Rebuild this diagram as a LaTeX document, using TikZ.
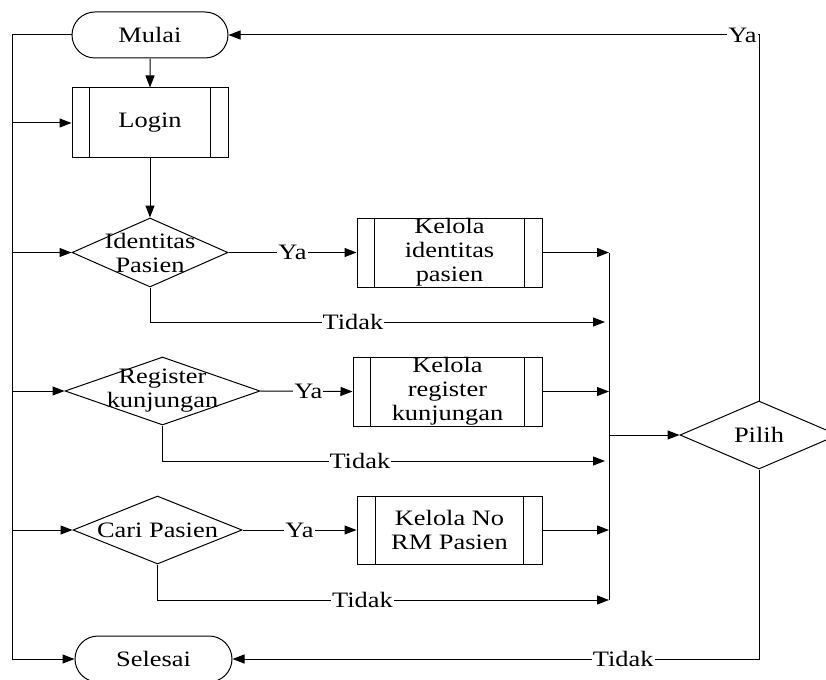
\documentclass[tikz,border=0pt]{standalone}
\usepackage{fontspec}
\setmainfont[FakeStretch=1.2]{Liberation Serif}
\usetikzlibrary{shapes.geometric,shapes.misc,arrows.meta}
\tikzset{
  base/.style={draw=black, line width=1pt, inner sep=0pt, align=center,
    font=\fontsize{22}{24}\selectfont},
  term/.style={base, rounded rectangle, minimum height=46pt},
  proc/.style={base, rectangle, minimum height=69pt},
  dec/.style={base, diamond, minimum height=68pt},
  txt/.style={align=center, inner sep=0pt, font=\fontsize{22}{24}\selectfont},
  lbl/.style={fill=white, inner sep=1pt, font=\fontsize{22}{24}\selectfont},
  conn/.style={line width=1pt},
  arr/.style={conn, -{Triangle[length=12pt,width=9pt]}}
}
\newcommand{\sidebars}[2]{%
  \draw[conn] ([xshift=#2]#1.north west) -- ([xshift=#2]#1.south west);
  \draw[conn] ([xshift=-#2]#1.north east) -- ([xshift=-#2]#1.south east);}
\begin{document}
\begin{tikzpicture}[x=1pt,y=-1pt]
\useasboundingbox (0,0) rectangle (826,679);

% nodes
\node[term, minimum width=156pt] (mulai) at (150,35) {Mulai};
\node[proc, minimum width=156pt, minimum height=70pt] (login) at (150,123) {Login};
\sidebars{login}{18pt}

\node[dec, minimum width=156pt, minimum height=69pt] (id) at (150,252.5) {};
\node[txt] (idt) at (id) {Identitas\\Pasien};
\node[proc, minimum width=185pt] (k1) at (449.5,252.5) {};
\node[txt] (k1t) at (k1) {Kelola\\identitas\\pasien};
\sidebars{k1}{18pt}

\node[dec, minimum width=195pt] (reg) at (162.5,391) {};
\node[txt] (regt) at (reg) {Register\\kunjungan};
\node[proc, minimum width=189pt] (k2) at (447.5,391.5) {};
\node[txt] (k2t) at (k2) {Kelola\\register\\kunjungan};
\sidebars{k2}{18pt}

\node[dec, minimum width=169pt] (cari) at (157.5,530) {};
\node[txt] (carit) at (cari) {Cari Pasien};
\node[proc, minimum width=185pt, minimum height=68pt] (k3) at (449.5,530) {};
\node[txt] (k3t) at (k3) {Kelola No\\RM Pasien};
\sidebars{k3}{19pt}

\node[term, minimum width=157pt] (selesai) at (153.5,659) {Selesai};

\node[dec, minimum width=158pt] (pilih) at (759,435) {};
\node[txt] (pilt) at (pilih) {Pilih};

% coordinates
\coordinate (L0) at (12,35);
\coordinate (Lend) at (12,659);
\coordinate (C1) at (609,252.5);
\coordinate (C2) at (609,391.5);
\coordinate (C3) at (609,530);
\coordinate (Cm) at (609,435);
\coordinate (Cbot) at (609,600);
\coordinate (T1) at (605,322);
\coordinate (T2) at (605,461);
\coordinate (T3) at (609,600);

% left bus
\draw[arr] (mulai.west) -- (L0) -- (Lend) -- (selesai.west);
\draw[arr] (L0 |- login) -- (login.west);
\draw[arr] (L0 |- id) -- (id.west);
\draw[arr] (L0 |- reg) -- (reg.west);
\draw[arr] (L0 |- cari) -- (cari.west);

% main flow
\draw[arr] (mulai) -- (login);
\draw[arr] (login) -- (id);

\draw[arr] (id.east) -- node[lbl, pos=0.5] {Ya} (k1.west);
\draw[arr] (reg.east) -- node[lbl, pos=0.52] {Ya} (k2.west);
\draw[arr] (cari.east) -- node[lbl, pos=0.5] {Ya} (k3.west);

\draw[arr] (id.south) |- node[lbl, pos=0.723] {Tidak} (T1);
\draw[arr] (reg.south) |- node[lbl, pos=0.723] {Tidak} (T2);
\draw[arr] (cari.south) |- node[lbl, pos=0.727] {Tidak} (T3);

\draw[arr] (k1.east) -- (C1);
\draw[arr] (k2.east) -- (C2);
\draw[arr] (k3.east) -- (C3);

\draw[conn] (C1) -- (Cbot);
\draw[arr] (Cm) -- (pilih.west);

\draw[arr] (pilih.north) |- node[lbl, pos=0.5, anchor=east, xshift=-1pt] {Ya} (mulai.east);
\draw[arr] (pilih.south) |- node[lbl, pos=0.629] {Tidak} (selesai.east);
\end{tikzpicture}
\end{document}
